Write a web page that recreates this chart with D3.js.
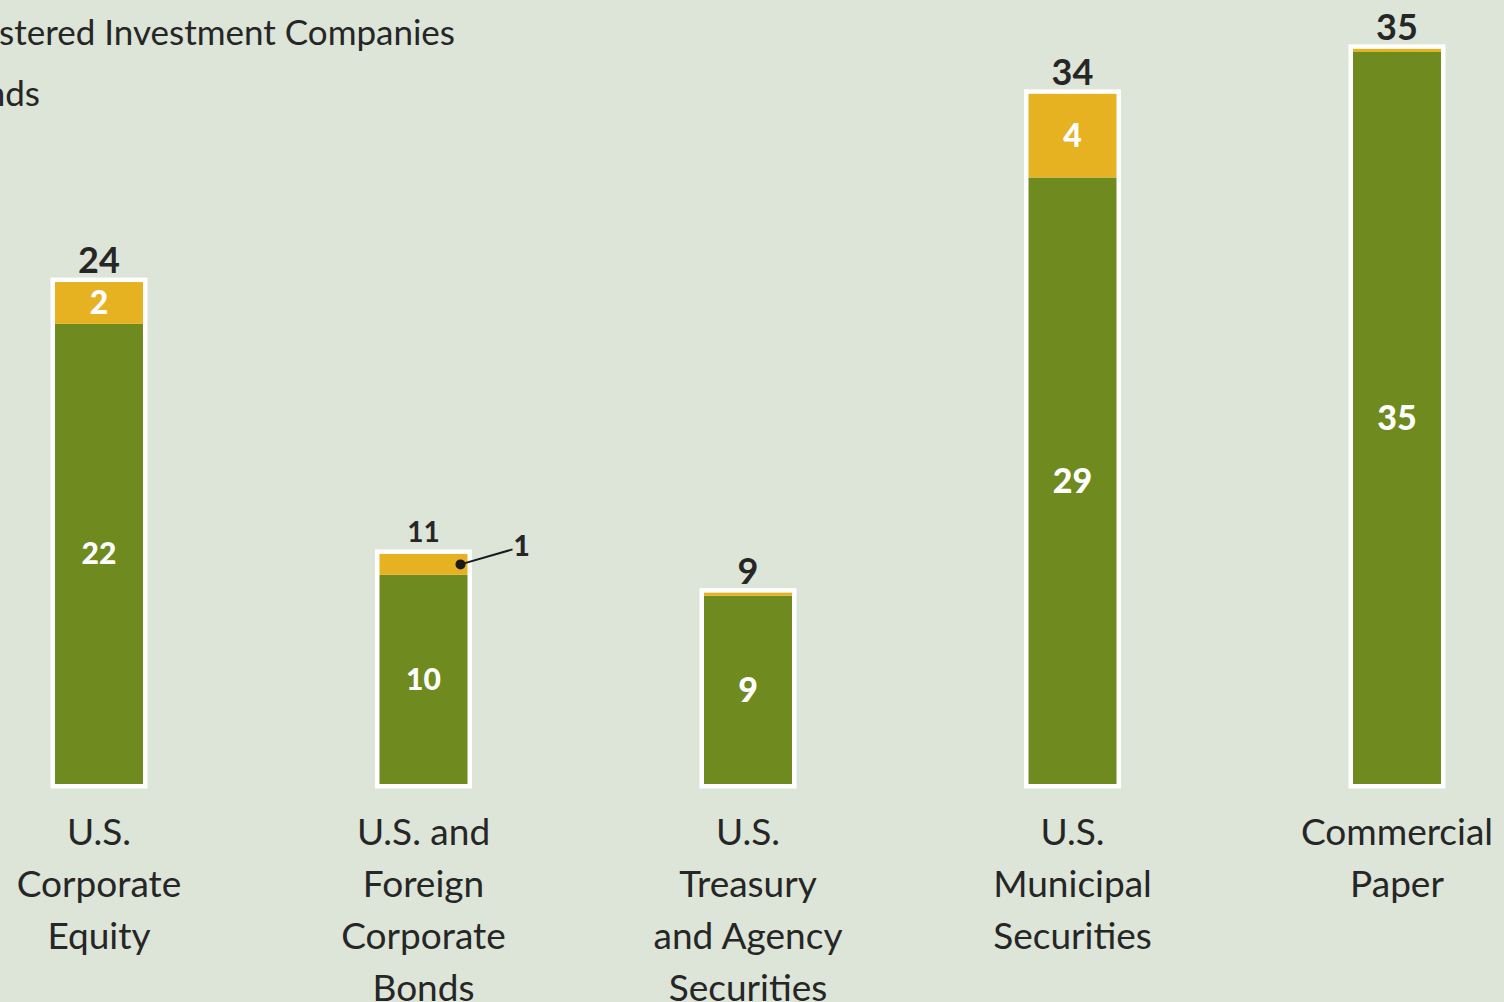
<!DOCTYPE html>
<html>
<head>
<meta charset="utf-8">
<script src="https://cdn.jsdelivr.net/npm/d3@7"></script>
<style>
  html, body { margin: 0; padding: 0; background: #dde4d8; overflow: hidden; }
  svg { display: block; }
  text { font-family: Lato, "Open Sans", sans-serif; }
</style>
</head>
<body>
<svg id="chart" width="1504" height="1002"></svg>
<script>
// ---- data ----
const categories = [
  ["U.S.", "Corporate", "Equity"],
  ["U.S. and", "Foreign", "Corporate", "Bonds"],
  ["U.S.", "Treasury", "and Agency", "Securities"],
  ["U.S.", "Municipal", "Securities"],
  ["Commercial", "Paper"]
];
const categoryKeys = ["equity", "corpBonds", "treasury", "municipal", "commercialPaper"];
const greenValues = [22, 10, 9, 29, 35];
const goldValues  = [2, 1, 0.15, 4, 0.15];
const totalLabels = ["24", "11", "9", "34", "35"];
const greenLabels = ["22", "10", "9", "29", "35"];
const goldLabels  = ["2", "1", "", "4", ""];
const legendLines = ["Registered Investment Companies", "Funds"];

// ---- styles ----
const W = 1504, H = 1002;
const BG = "#dde4d8", GREEN = "#6f8a1f", GOLD = "#e6b222", TEXT = "#262626";
const svg = d3.select("#chart");
svg.append("rect").attr("width", W).attr("height", H).attr("fill", BG);

const x = d3.scalePoint().domain(categoryKeys).range([99, 1397]);
const y = d3.scaleLinear().domain([0, 35]).range([784, 52]);
const barW = 88, border = 4.5;

const data = categoryKeys.map((k, i) => ({
  key: k, green: greenValues[i], gold: goldValues[i],
  total: totalLabels[i], gl: greenLabels[i], ol: goldLabels[i], lines: categories[i]
}));

// legend text (partially cut on the left, as in the reference)
svg.selectAll("text.legend").data(legendLines).join("text")
  .attr("class", "legend")
  .attr("x", (d, i) => i === 0 ? 455 : 40)
  .attr("y", (d, i) => 45 + i * 61)
  .attr("text-anchor", "end")
  .attr("font-size", 35)
  .attr("fill", TEXT)
  .text(d => d);

const g = svg.append("g");
const bars = g.selectAll("g.bar").data(data).join("g").attr("class", "bar");

// white frame
bars.append("rect")
  .attr("x", d => x(d.key) - barW / 2 - border)
  .attr("y", d => y(d.green + d.gold) - border)
  .attr("width", barW + 2 * border)
  .attr("height", d => y(0) - y(d.green + d.gold) + 2 * border)
  .attr("fill", "#ffffff");

// green segment
bars.append("rect")
  .attr("x", d => x(d.key) - barW / 2)
  .attr("y", d => y(d.green))
  .attr("width", barW)
  .attr("height", d => y(0) - y(d.green))
  .attr("fill", GREEN);

// gold segment
bars.append("rect")
  .attr("x", d => x(d.key) - barW / 2)
  .attr("y", d => y(d.green + d.gold))
  .attr("width", barW)
  .attr("height", d => y(d.green) - y(d.green + d.gold))
  .attr("fill", GOLD);

// total labels
bars.append("text")
  .attr("x", d => x(d.key))
  .attr("y", d => y(d.green + d.gold) - border - 17)
  .attr("dy", "0.35em")
  .attr("text-anchor", "middle")
  .attr("font-size", d => d.key === "corpBonds" ? 28 : 36)
  .attr("font-weight", 700)
  .attr("fill", TEXT)
  .text(d => d.total);

// green labels
bars.append("text")
  .attr("x", d => x(d.key))
  .attr("y", d => (y(0) + y(d.green)) / 2)
  .attr("dy", "0.35em")
  .attr("text-anchor", "middle")
  .attr("font-size", d => (d.gl.length > 1 && d.green < 25) ? 30 : 34)
  .attr("font-weight", 900)
  .attr("fill", "#ffffff")
  .text(d => d.gl);

// gold labels (inside if tall enough)
bars.filter(d => d.gold >= 2).append("text")
  .attr("x", d => x(d.key))
  .attr("y", d => (y(d.green) + y(d.green + d.gold)) / 2)
  .attr("dy", "0.35em")
  .attr("text-anchor", "middle")
  .attr("font-size", 32)
  .attr("font-weight", 900)
  .attr("fill", "#ffffff")
  .text(d => d.ol);

// callout for small gold segment
const callout = bars.filter(d => d.gold >= 0.5 && d.gold < 2);
callout.append("circle")
  .attr("cx", d => x(d.key) + 37)
  .attr("cy", d => (y(d.green) + y(d.green + d.gold)) / 2)
  .attr("r", 5)
  .attr("fill", "#1a1a1a");
callout.append("line")
  .attr("x1", d => x(d.key) + 37)
  .attr("y1", d => (y(d.green) + y(d.green + d.gold)) / 2)
  .attr("x2", d => x(d.key) + 89)
  .attr("y2", d => (y(d.green) + y(d.green + d.gold)) / 2 - 15)
  .attr("stroke", "#1a1a1a")
  .attr("stroke-width", 2);
callout.append("text")
  .attr("x", d => x(d.key) + 98)
  .attr("y", d => (y(d.green) + y(d.green + d.gold)) / 2 - 18)
  .attr("dy", "0.35em")
  .attr("text-anchor", "middle")
  .attr("font-size", 28)
  .attr("font-weight", 900)
  .attr("fill", TEXT)
  .text(d => d.ol);

// category labels
bars.append("text")
  .attr("text-anchor", "middle")
  .attr("font-size", 37)
  .attr("fill", TEXT)
  .selectAll("tspan").data(d => d.lines.map(l => ({ l, cx: x(d.key) }))).join("tspan")
  .attr("x", d => d.cx)
  .attr("y", (d, i) => 845 + i * 52)
  .text(d => d.l);
</script>
</body>
</html>
